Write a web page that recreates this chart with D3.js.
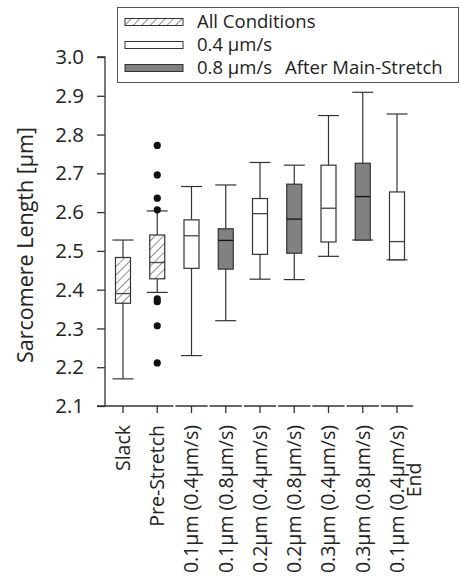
<!DOCTYPE html>
<html>
<head>
<meta charset="utf-8">
<script src="https://cdn.jsdelivr.net/npm/d3@7"></script>
<style>
  body { margin: 0; background: #fff; }
  text { font-family: "Open Sans", "Noto Sans", sans-serif; fill: #222; }
</style>
</head>
<body>
<div id="chart"></div>
<script>
// categories (second line of a label after "|")
const categories = ["Slack", "Pre-Stretch", "0.1µm (0.4µm/s)", "0.1µm (0.8µm/s)",
    "0.2µm (0.4µm/s)", "0.2µm (0.8µm/s)", "0.3µm (0.4µm/s)", "0.3µm (0.8µm/s)", "0.1µm (0.4µm/s)|End"];
const groups = ["all", "all", "0.4", "0.8", "0.4", "0.8", "0.4", "0.8", "0.4"];

// box statistics
const whiskerLow  = [2.170, 2.393, 2.230, 2.320, 2.427, 2.426, 2.486, 2.528, 2.477];
const q1          = [2.365, 2.428, 2.455, 2.453, 2.491, 2.494, 2.523, 2.528, 2.477];
const medians     = [2.390, 2.470, 2.539, 2.527, 2.596, 2.582, 2.610, 2.640, 2.524];
const q3          = [2.483, 2.541, 2.580, 2.557, 2.635, 2.672, 2.721, 2.726, 2.652];
const whiskerHigh = [2.528, 2.603, 2.666, 2.670, 2.728, 2.721, 2.849, 2.909, 2.853];

// outliers of Pre-Stretch
const outliers = [2.772, 2.696, 2.636, 2.606, 2.376, 2.369, 2.307, 2.211];

const yTicks = [2.1, 2.2, 2.3, 2.4, 2.5, 2.6, 2.7, 2.8, 2.9, 3.0];

const legendItems = [
    {group: "all", label: "All Conditions"},
    {group: "0.4", label: "0.4 µm/s"},
    {group: "0.8", label: "0.8 µm/s"}
];

const width = 460, height = 582;
const svg = d3.select("#chart").append("svg")
    .attr("width", width)
    .attr("height", height);

// hatch pattern
const defs = svg.append("defs");
defs.append("pattern")
    .attr("id", "hatch")
    .attr("patternUnits", "userSpaceOnUse")
    .attr("width", 6).attr("height", 6)
    .attr("patternTransform", "rotate(45)")
    .append("line")
    .attr("x1", 0).attr("y1", 0).attr("x2", 0).attr("y2", 6)
    .attr("stroke", "#333").attr("stroke-width", 1.1);

function fillFor(g) {
    if (g === "all") return "url(#hatch)";
    if (g === "0.8") return "#818181";
    return "#fff";
}

const axisX = 105, axisY = 406;

const x = d3.scalePoint()
    .domain(d3.range(categories.length))
    .range([123, 397]);

const y = d3.scaleLinear()
    .domain([2.1, 3.0])
    .range([406, 57]);

// y axis
const yAxis = svg.append("g")
    .attr("transform", `translate(${axisX},0)`)
    .call(d3.axisLeft(y).tickValues(yTicks).tickFormat(d3.format(".1f")).tickSize(8).tickPadding(13));
yAxis.select(".domain").attr("stroke", "#333").attr("stroke-width", 1.3).attr("d", `M-8,${y(3.0)}H0V${axisY}`);
yAxis.selectAll(".tick line").attr("stroke", "#333").attr("stroke-width", 1.3);
yAxis.selectAll(".tick text").style("font-size", "20.5px").attr("fill", "#222")
    .style("font-family", "'Open Sans', sans-serif");

svg.append("text")
    .attr("transform", `translate(33,245) rotate(-90)`)
    .attr("text-anchor", "middle")
    .style("font-size", "21.5px")
    .text("Sarcomere Length [µm]");

// x axis: broken segments between categories
const step = x.step();
const segs = [[axisX - 8, x(1) + step / 2 - 1]];
for (let i = 2; i < categories.length; i++) {
    segs.push([x(i) - step / 2 + 1, x(i) + step / 2 - 1]);
}
svg.append("g").selectAll("line.xseg")
    .data(segs)
    .join("line")
    .attr("class", "xseg")
    .attr("x1", d => d[0]).attr("x2", d => d[1])
    .attr("y1", axisY).attr("y2", axisY)
    .attr("stroke", "#333").attr("stroke-width", 1.3);

svg.append("g").selectAll("line.xtick")
    .data(d3.range(categories.length))
    .join("line")
    .attr("x1", d => x(d)).attr("x2", d => x(d))
    .attr("y1", axisY).attr("y2", axisY + 7)
    .attr("stroke", "#333").attr("stroke-width", 1.3);

// x labels, rotated
const xl = svg.append("g").selectAll("g.xlab")
    .data(categories)
    .join("g")
    .attr("transform", (d, i) => `translate(${x(i)},${axisY + 19}) rotate(-90)`);
xl.each(function(d) {
    const lines = d.split("|");
    const g = d3.select(this);
    g.append("text")
        .attr("text-anchor", "end")
        .attr("dy", "0.35em")
        .style("font-size", "19.5px")
        .text(lines[0]);
    if (lines[1]) {
        g.append("text")
            .attr("text-anchor", "middle")
            .attr("x", -55)
            .attr("y", 17)
            .attr("dy", "0.35em")
            .style("font-size", "19.5px")
            .text(lines[1]);
    }
});

// boxes
const boxW = 15, capW = 21;
const boxes = svg.append("g").selectAll("g.box")
    .data(d3.range(categories.length))
    .join("g")
    .attr("class", "box");

// whiskers
boxes.append("line")
    .attr("x1", i => x(i)).attr("x2", i => x(i))
    .attr("y1", i => y(whiskerHigh[i])).attr("y2", i => y(q3[i]))
    .attr("stroke", "#333").attr("stroke-width", 1.2);
boxes.append("line")
    .attr("x1", i => x(i)).attr("x2", i => x(i))
    .attr("y1", i => y(q1[i])).attr("y2", i => y(whiskerLow[i]))
    .attr("stroke", "#333").attr("stroke-width", 1.2);
// caps
boxes.append("line")
    .attr("x1", i => x(i) - capW / 2).attr("x2", i => x(i) + capW / 2)
    .attr("y1", i => y(whiskerHigh[i])).attr("y2", i => y(whiskerHigh[i]))
    .attr("stroke", "#333").attr("stroke-width", 1.2);
boxes.append("line")
    .attr("x1", i => x(i) - capW / 2).attr("x2", i => x(i) + capW / 2)
    .attr("y1", i => y(whiskerLow[i])).attr("y2", i => y(whiskerLow[i]))
    .attr("stroke", "#333").attr("stroke-width", 1.2);
// box
boxes.append("rect")
    .attr("x", i => x(i) - boxW / 2)
    .attr("width", boxW)
    .attr("y", i => y(q3[i]))
    .attr("height", i => y(q1[i]) - y(q3[i]))
    .attr("fill", i => fillFor(groups[i]))
    .attr("stroke", "#333").attr("stroke-width", 1.2);
// median
boxes.append("line")
    .attr("x1", i => x(i) - boxW / 2).attr("x2", i => x(i) + boxW / 2)
    .attr("y1", i => y(medians[i])).attr("y2", i => y(medians[i]))
    .attr("stroke", i => groups[i] === "0.8" ? "#111" : "#444").attr("stroke-width", 1.3);

// outliers
svg.append("g").selectAll("circle")
    .data(outliers)
    .join("circle")
    .attr("cx", x(1))
    .attr("cy", d => y(d))
    .attr("r", 3.6)
    .attr("fill", "#111");

// legend
const leg = svg.append("g");
leg.append("rect")
    .attr("x", 117.5).attr("y", 7.5)
    .attr("width", 341).attr("height", 75)
    .attr("fill", "#fff")
    .attr("stroke", "#555").attr("stroke-width", 1);
const rows = leg.selectAll("g.row")
    .data(legendItems)
    .join("g")
    .attr("transform", (d, i) => `translate(0,${22 + i * 23})`);
rows.append("rect")
    .attr("x", 125).attr("y", -3.5)
    .attr("width", 58).attr("height", 7)
    .attr("fill", d => fillFor(d.group))
    .attr("stroke", "#333").attr("stroke-width", 1);
rows.append("text")
    .attr("x", 197)
    .attr("dy", "0.35em")
    .style("font-size", "18.5px")
    .text(d => d.label);
leg.append("text")
    .attr("x", 285).attr("y", 68)
    .attr("dy", "0.35em")
    .style("font-size", "18.5px")
    .text("After Main-Stretch");
</script>
</body>
</html>
